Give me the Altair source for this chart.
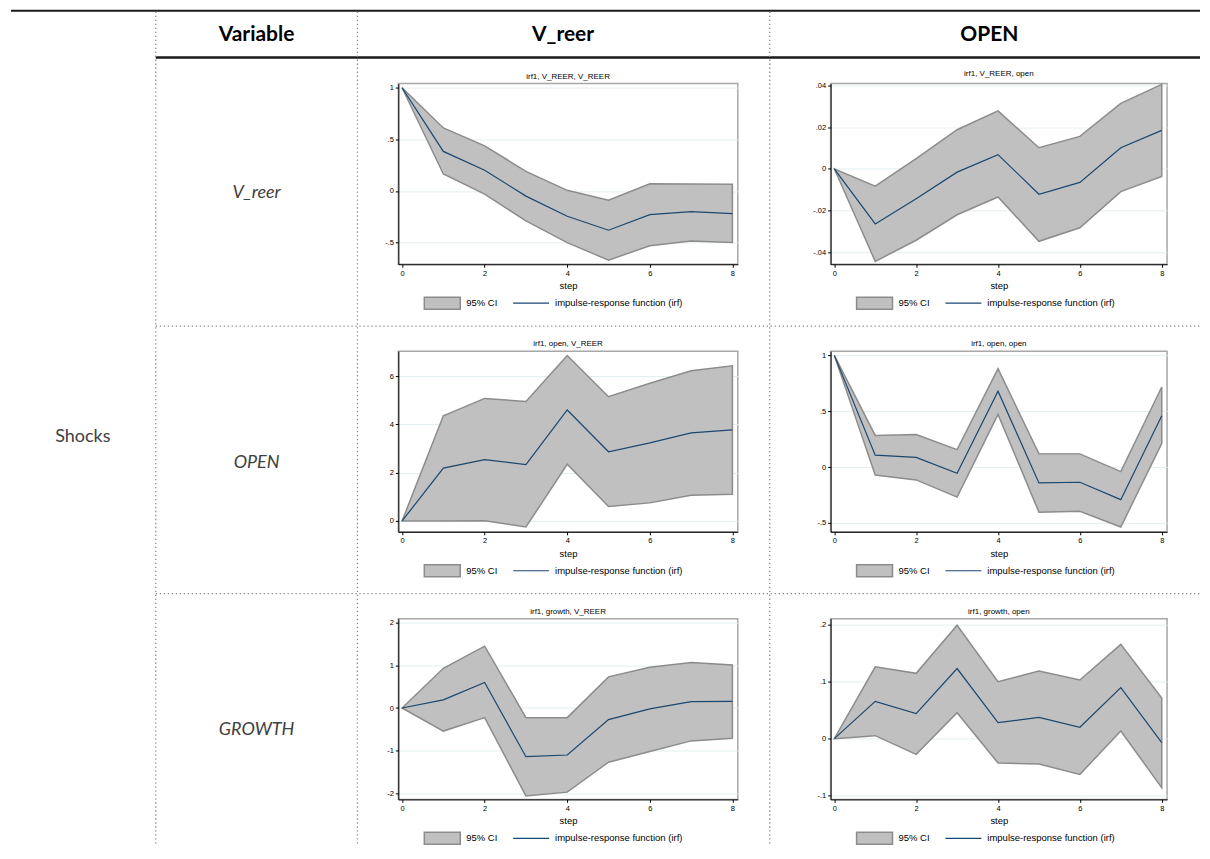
import altair as alt
import pandas as pd

steps = list(range(9))

# ---- data ----
# shock V_REER -> response V_REER
a1_irf = [1, 0.383, 0.20, -0.05, -0.245, -0.38, -0.23, -0.20, -0.22]
a1_hi = [1, 0.61, 0.437, 0.19, 0.006, -0.09, 0.07, 0.068, 0.064]
a1_lo = [1, 0.164, -0.03, -0.29, -0.50, -0.67, -0.53, -0.485, -0.50]
# shock V_REER -> response open
b1_irf = [0, -0.0264, -0.0143, -0.0016, 0.0068, -0.0122, -0.0065, 0.0101, 0.0184]
b1_hi = [0, -0.0083, 0.0049, 0.0187, 0.0277, 0.0101, 0.0155, 0.0313, 0.0404]
b1_lo = [0, -0.0443, -0.0342, -0.022, -0.0135, -0.0347, -0.0282, -0.0109, -0.0037]
# shock open -> response V_REER
a2_irf = [0, 2.19, 2.54, 2.34, 4.60, 2.87, 3.24, 3.65, 3.78]
a2_hi = [0, 4.36, 5.08, 4.95, 6.86, 5.15, 5.71, 6.23, 6.43]
a2_lo = [0, 0.0, 0.01, -0.25, 2.35, 0.60, 0.75, 1.07, 1.11]
# shock open -> response open
b2_irf = [1, 0.106, 0.086, -0.056, 0.679, -0.142, -0.136, -0.292, 0.46]
b2_hi = [1, 0.283, 0.292, 0.156, 0.88, 0.118, 0.118, -0.041, 0.717]
b2_lo = [1, -0.071, -0.115, -0.269, 0.472, -0.404, -0.396, -0.537, 0.21]
# shock growth -> response V_REER
a3_irf = [0, 0.19, 0.60, -1.14, -1.10, -0.27, -0.02, 0.15, 0.155]
a3_hi = [0, 0.93, 1.45, -0.225, -0.225, 0.73, 0.955, 1.064, 1.01]
a3_lo = [0, -0.54, -0.225, -2.06, -1.97, -1.27, -1.02, -0.77, -0.71]
# shock growth -> response open
b3_irf = [0, 0.0655, 0.044, 0.123, 0.028, 0.0374, 0.02, 0.0895, -0.007]
b3_hi = [0, 0.126, 0.1146, 0.199, 0.10, 0.1187, 0.103, 0.1655, 0.0713]
b3_lo = [0, 0.0053, -0.0275, 0.0456, -0.0427, -0.0444, -0.0626, 0.0135, -0.086]

panel_titles = ["irf1, V_REER, V_REER", "irf1, V_REER, open",
                "irf1, open, V_REER", "irf1, open, open",
                "irf1, growth, V_REER", "irf1, growth, open"]
y_ticks = [[-0.5, 0, 0.5, 1], [-0.04, -0.02, 0, 0.02, 0.04],
           [0, 2, 4, 6], [-0.5, 0, 0.5, 1],
           [-2, -1, 0, 1, 2], [-0.1, 0, 0.1, 0.2]]
y_domains = [[-0.71, 1.04], [-0.0457, 0.0408],
             [-0.45, 7.04], [-0.58, 1.038],
             [-2.14, 2.093], [-0.1065, 0.2105]]
x_ticks = [0, 2, 4, 6, 8]
header_labels = ["Variable", "V_reer", "OPEN"]
row_labels = ["V_reer", "OPEN", "GROWTH"]
side_label = "Shocks"
legend_labels = ["95% CI", "impulse-response function (irf)"]

one = pd.DataFrame({"k": [0]})
SF = "Liberation Sans"
AREA_FILL = "#c0c0c0"
AREA_STROKE = "#8c8c8c"
LINE_COLOR = "#1a476f"


def panel(idx, irf, lo, hi, w, h):
    df = pd.DataFrame({"step": steps, "irf": irf, "lo": lo, "hi": hi})
    xs = alt.Scale(domain=[-0.09, 8.13], nice=False, zero=False)
    ys = alt.Scale(domain=y_domains[idx], nice=False, zero=False)
    xax = alt.Axis(values=x_ticks, title="step", grid=False, format="d")
    yax = alt.Axis(values=y_ticks[idx], title=None, grid=True,
                   labelExpr="replace(toString(datum.value), '0.', '.')")
    base = alt.Chart(df)
    band = base.mark_area(fill=AREA_FILL, stroke=AREA_STROKE, strokeWidth=1.5).encode(
        x=alt.X("step:Q", scale=xs, axis=xax),
        y=alt.Y("lo:Q", scale=ys, axis=yax),
        y2="hi:Q",
    )
    line = base.mark_line(color=LINE_COLOR, strokeWidth=1.2).encode(
        x=alt.X("step:Q", scale=xs, axis=xax),
        y=alt.Y("irf:Q", scale=ys, axis=yax),
    )
    ly = h + 39
    leg_rect = alt.Chart(one).mark_rect(fill=AREA_FILL, stroke=AREA_STROKE, strokeWidth=1.5).encode(
        x=alt.value(26), x2=alt.value(62), y=alt.value(ly - 6), y2=alt.value(ly + 6))
    leg_t1 = alt.Chart(one).mark_text(align="left", baseline="middle", font=SF, fontSize=9.5, color="#000").encode(
        x=alt.value(68), y=alt.value(ly), text=alt.value(legend_labels[0]))
    leg_line = alt.Chart(one).mark_rule(color=LINE_COLOR, strokeWidth=1.2).encode(
        x=alt.value(115), x2=alt.value(151), y=alt.value(ly))
    leg_t2 = alt.Chart(one).mark_text(align="left", baseline="middle", font=SF, fontSize=9.5, color="#000").encode(
        x=alt.value(157), y=alt.value(ly), text=alt.value(legend_labels[1]))
    return alt.layer(band, line, leg_rect, leg_t1, leg_line, leg_t2).properties(
        width=w, height=h,
        title=alt.TitleParams(text=panel_titles[idx], fontSize=8, font=SF, fontWeight="normal",
                              offset=3, anchor="middle", frame="group", color="#000"),
        view=alt.ViewBackground(stroke="#a8a8a8", strokeWidth=1.5),
    )


# ---- table decoration (positions relative to the first panel row's top) ----
def hline(y, x1, x2, color, width, dash=None):
    kw = {"color": color, "strokeWidth": width}
    if dash:
        kw["strokeDash"] = dash
    return alt.Chart(one).mark_rule(**kw).encode(x=alt.value(x1), x2=alt.value(x2), y=alt.value(y))


def vline(x, y1, y2, color, width, dash=None):
    kw = {"color": color, "strokeWidth": width}
    if dash:
        kw["strokeDash"] = dash
    return alt.Chart(one).mark_rule(**kw).encode(x=alt.value(x), y=alt.value(y1), y2=alt.value(y2))


def label(txt, x, y, size, weight="normal", style="normal", color="#000"):
    return alt.Chart(one).mark_text(font="Lato", fontSize=size, fontWeight=weight, fontStyle=style,
                                    color=color, align="center", baseline="middle").encode(
        x=alt.value(x), y=alt.value(y), text=alt.value(txt))


W_D, W_A, W_B, H = 297, 340, 337, 181
RIGHT = 1193
BOTTOM = 764
DOT = [1.3, 2.7]
DOTC = "#8a8a8a"
deco_layers = [
    hline(-73, 2, RIGHT, "#1a1a1a", 2),
    hline(-26, 147, RIGHT, "#1a1a1a", 2.5),
    hline(243, 147, RIGHT, DOTC, 1.3, DOT),
    hline(511, 147, RIGHT, DOTC, 1.3, DOT),
    vline(147, -72, BOTTOM, DOTC, 1.3, DOT),
    vline(349, -72, BOTTOM, DOTC, 1.3, DOT),
    vline(762, -72, BOTTOM, DOTC, 1.3, DOT),
]
for txt, x in zip(header_labels, [248, 555, 982]):
    deco_layers.append(label(txt, x, -49, 21, weight="bold"))
for txt, y in zip(row_labels, [110, 380, 648]):
    deco_layers.append(label(txt, 248, y, 18, style="italic", color="#404040"))
deco_layers.append(label(side_label, 74, 354, 18, color="#404040"))

deco = alt.layer(*deco_layers).properties(width=W_D, height=H)


def spacer():
    return alt.Chart(one).mark_point(opacity=0, size=1).encode(
        x=alt.value(50), y=alt.value(50)).properties(width=W_D, height=H)


chart = alt.concat(
    deco,
    panel(0, a1_irf, a1_lo, a1_hi, W_A, H),
    panel(1, b1_irf, b1_lo, b1_hi, W_B, H),
    spacer(),
    panel(2, a2_irf, a2_lo, a2_hi, W_A, H),
    panel(3, b2_irf, b2_lo, b2_hi, W_B, H),
    spacer(),
    panel(4, a3_irf, a3_lo, a3_hi, W_A, H),
    panel(5, b3_irf, b3_lo, b3_hi, W_B, H),
    columns=3, spacing={"row": 87, "column": 93}, bounds="flush",
).properties(
    padding=0, background="white"
).configure_view(stroke="transparent").configure_axis(
    labelFont=SF, titleFont=SF, labelFontSize=7.5, titleFontSize=9.5, titleFontWeight="normal",
    labelColor="#000", titleColor="#000", domainColor="#000", domainWidth=1,
    tickColor="#000", tickSize=3, labelPadding=2, titlePadding=4,
    gridColor="#e3eef0", gridWidth=1,
)

chart.save("out.html", embed_options={"renderer": "svg", "actions": False})
